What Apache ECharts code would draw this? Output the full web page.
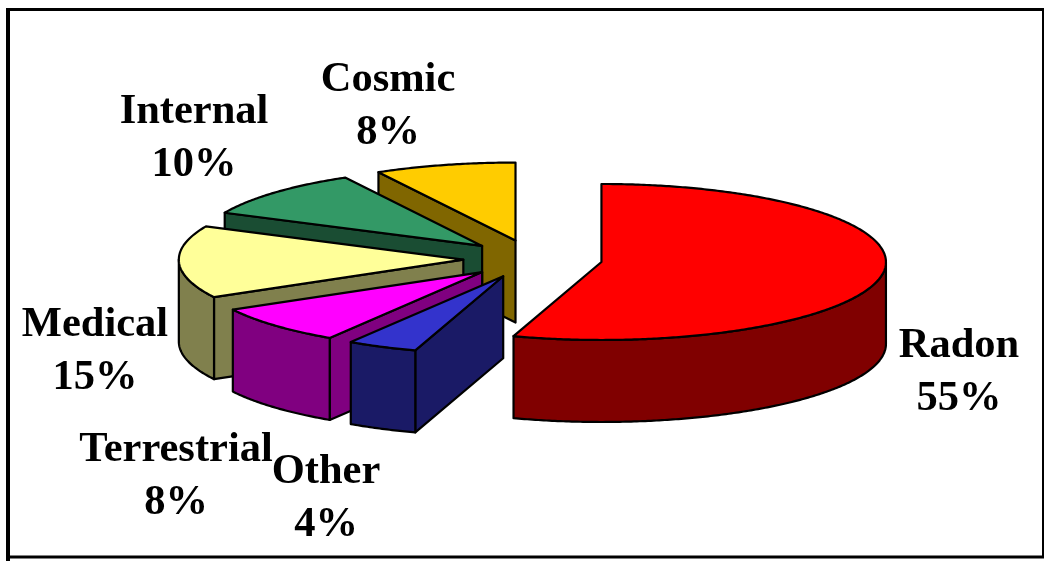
<!DOCTYPE html>
<html>
<head>
<meta charset="utf-8">
<style>html,body{margin:0;padding:0;background:#fff}#c{width:1045px;height:561px}</style>
<script src="https://cdn.jsdelivr.net/npm/echarts@6/dist/echarts.min.js"></script>
</head>
<body>
<div id="c"></div>
<script>
// Data
const categories = ['Radon', 'Other', 'Terrestrial', 'Medical', 'Internal', 'Cosmic'];
const percentages = [55, 4, 8, 15, 10, 8];
// Styles
const topColors = ['#FF0000', '#3333CC', '#FF00FF', '#FFFF99', '#339966', '#FFCC00'];
const sideColors = ['#800000', '#1A1A66', '#800080', '#80804D', '#1A4D33', '#806600'];
// Layout (label centres, in pixels)
const labelX = [959, 326, 176, 95, 194, 388];
const labelY = [373, 499, 477, 352, 139, 107];
const geom = { cx: 532.8, cy: 259, rx: 284.5, ry: 78, depth: 82, explode: 69.5 };

const total = percentages.reduce((a, b) => a + b, 0);
const startAngles = [];
percentages.reduce((acc, v, i) => { startAngles[i] = acc; return acc + v; }, 0);
const toRad = v => v / total * 2 * Math.PI;

function arcPoints(ox, oy, a0, a1, dy) {
  const n = Math.max(2, Math.ceil((a1 - a0) / 0.01));
  const pts = [];
  for (let k = 0; k <= n; k++) {
    const a = a0 + (a1 - a0) * k / n;
    pts.push([ox + geom.rx * Math.sin(a), oy - geom.ry * Math.cos(a) + dy]);
  }
  return pts;
}

// Back slices first, so nearer slices paint over them
const order = percentages.map((v, i) => i)
  .map(i => [i, Math.cos(toRad(startAngles[i] + percentages[i] / 2))])
  .sort((p, q) => q[1] - p[1]).map(p => p[0]);

function renderItem(params, api) {
  const i = params.dataIndex;
  const a0 = toRad(startAngles[i]);
  const a1 = a0 + toRad(api.value(0));
  const mid = (a0 + a1) / 2;
  const ox = geom.cx + geom.explode * Math.sin(mid);
  const oy = geom.cy - geom.explode * (geom.ry / geom.rx) * Math.cos(mid);
  const base = order.indexOf(i) * 10;
  const d = geom.depth;
  const line = { stroke: '#000', lineWidth: 2.2, lineJoin: 'round' };
  const children = [];
  const poly = (pts, fill, z) => children.push({
    type: 'polygon', z2: base + z, shape: { points: pts }, style: Object.assign({ fill }, line)
  });
  const eps = 1e-6;
  const wall = a => {
    const p = [ox + geom.rx * Math.sin(a), oy - geom.ry * Math.cos(a)];
    poly([[ox, oy], p, [p[0], p[1] + d], [ox, oy + d]], sideColors[i], 1);
  };
  if (Math.sin(a0) < -eps) wall(a0);
  if (Math.sin(a1) > eps) wall(a1);
  // Outer rim: only the front half of the ellipse faces the viewer
  const f0 = Math.max(a0, Math.PI / 2), f1 = Math.min(a1, 3 * Math.PI / 2);
  if (f1 > f0) {
    const upper = arcPoints(ox, oy, f0, f1, 0);
    const lower = arcPoints(ox, oy, f0, f1, d).reverse();
    poly(upper.concat(lower), sideColors[i], 2);
  }
  poly([[ox, oy]].concat(arcPoints(ox, oy, a0, a1, 0)), topColors[i], 3);
  children.push({
    type: 'text', z2: 200,
    style: {
      text: categories[i] + '\n' + api.value(0) + '%',
      x: labelX[i], y: labelY[i], align: 'center', verticalAlign: 'middle',
      fontFamily: '"Liberation Serif"', fontWeight: 'bold', fontSize: 42.5, lineHeight: 53, fill: '#000'
    }
  });
  return { type: 'group', children };
}

const chart = echarts.init(document.getElementById('c'), null, { renderer: 'canvas' });
const rule = (x1, y1, x2, y2, w) => ({
  type: 'line', silent: true, z: 10,
  shape: { x1, y1, x2, y2 }, style: { stroke: '#000', lineWidth: w }
});
chart.setOption({
  backgroundColor: '#fff',
  animation: false,
  graphic: [
    rule(8, 8, 8, 561, 4),
    rule(6, 9.5, 1044, 9.5, 3),
    rule(1043, 8, 1043, 558, 2),
    rule(6, 557, 1044, 557, 3)
  ],
  series: [{
    type: 'custom',
    coordinateSystem: 'none',
    silent: true,
    renderItem,
    data: percentages.map((v, i) => ({ name: categories[i], value: [v] }))
  }]
});
</script>
</body>
</html>
